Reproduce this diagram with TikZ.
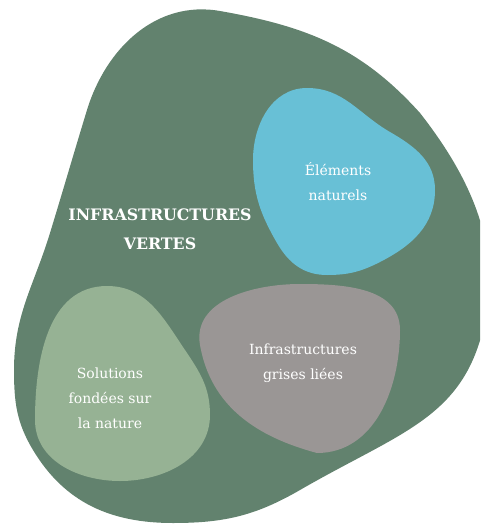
\documentclass[tikz,border=0pt]{standalone}
\usepackage{fontspec}
\setmainfont{DejaVu Serif}
\usepackage{tikz}
\definecolor{darkGreen}{RGB}{98,130,110}
\definecolor{waterBlue}{RGB}{104,192,214}
\definecolor{greyStone}{RGB}{154,150,149}
\definecolor{lightGreen}{RGB}{150,178,148}

\begin{document}
\begin{tikzpicture}[x=1pt, y=1pt,
    % Styles
    blob/.style={% For the coloured shapes
        draw=none,
        },
    blobtext/.style={% For the texts inside the shapes
        text=white,
        align=center,
        inner sep=0pt,
        font=\fontsize{14}{25}\selectfont,
        },
    headtext/.style={% For the big title
        text=white,
        align=center,
        inner sep=0pt,
        font=\fontsize{15.8}{29}\selectfont\bfseries,
        },
    ]

    % Page with its margins
    \useasboundingbox (0,0) rectangle (480,-525);
    \clip (0,0) rectangle (480,-525);

    % Draw the big shape
    \fill [blob, darkGreen] (220,-11)
        to[out=-10, in=132] (420,-113)
        to[out=-52, in=90, looseness=0.9] (490,-285)
        to[out=-95, in=30, looseness=1.2] (300,-490)
        to[out=210, in=0] (173,-523)
        to[out=180, in=-59] (33,-450)
        to[out=121, in=-90] (14,-370)
        to[out=90, in=-107] (50,-233)
        to[out=73, in=-107] (87,-110)
        to[out=73, in=170] cycle;

    % Draw the inner shapes
    \fill [blob, waterBlue] (307,-88)
        to[out=0, in=150] (390,-132)
        to[out=-30, in=90] (435,-190)
        to[out=-90, in=27] (380,-262)
        to[out=207, in=0] (327,-275)
        to[out=180, in=-60] (277,-243)
        to[out=120, in=-90] (253,-160)
        to[out=90, in=180] cycle;
    \fill [blob, greyStone] (300,-284)
        to[out=0, in=90] (400,-330)
        to[out=-90, in=0] (317,-453)
        to[out=165, in=-80] (200,-345)
        to[out=100, in=180] cycle;
    \fill [blob, lightGreen] (107,-286)
        to[out=0, in=124] (185,-350)
        to[out=-56, in=90] (210,-415)
        to[out=-90, in=0] (120,-481)
        to[out=180, in=-90] (35,-420)
        to[out=90, in=180] cycle;

    % Draw the texts
    \node [headtext] (green) at (160,-229) {INFRASTRUCTURES\\VERTES};
    \node [blobtext] (natural) at (338,-182) {Éléments\\naturels};
    \node [blobtext] (grey) at (303,-363) {Infrastructures\\grises liées};
    \node [blobtext] (nbs) at (110,-398) {Solutions\\fondées sur\\la nature};

\end{tikzpicture}
\end{document}
